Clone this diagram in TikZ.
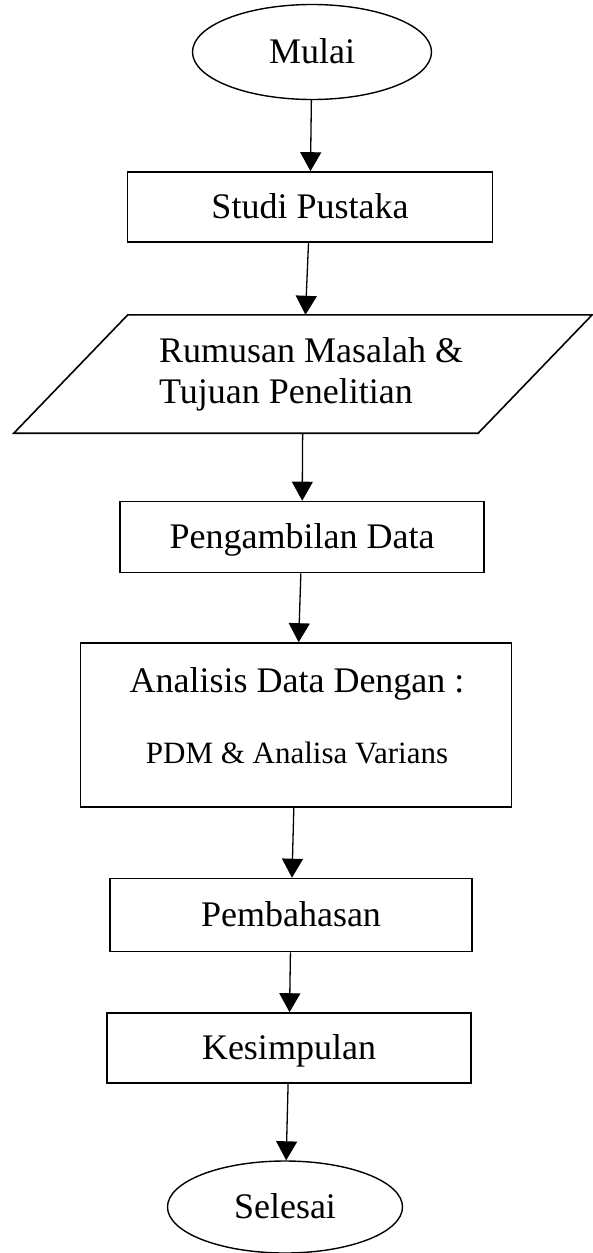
\documentclass[tikz,border=0pt]{standalone}
\usepackage{fontspec}
\setmainfont{Liberation Serif}
\usetikzlibrary{arrows.meta,shapes.geometric,calc}
\begin{document}
\begin{tikzpicture}[x=1pt,y=-1pt,
  every node/.style={font=\fontsize{36}{43}\selectfont},
  proc/.style={draw, line width=1.6pt, rectangle, inner sep=0pt, text height=22pt, text depth=0pt},
  term/.style={draw, line width=1.4pt, ellipse, inner sep=0pt, text height=22pt, text depth=0pt},
  arr/.style={line width=1.3pt, -{Triangle[width=21pt,length=19pt]}},
  txt/.style={inner sep=0pt}
]
\useasboundingbox (0,0) rectangle (593,1253);
\node[term, minimum width=239pt, minimum height=95pt] (mulai) at (312,52) {Mulai};
\node[proc, minimum width=365pt, minimum height=70pt] (studi) at (310,207) {Studi Pustaka};
\node[inner sep=0pt, minimum width=464pt, minimum height=118pt] (para) at (303,374) {};
\draw[line width=1.6pt] ($(para.north west)+(57,0)$) -- ($(para.north east)+(57,0)$)
  -- ($(para.south east)+(-57,0)$) -- ($(para.south west)+(-57,0)$) -- cycle;
\node[txt, anchor=base west] (para1) at (159,362) {Rumusan Masalah \&};
\node[txt, anchor=base west] (para2) at (159,403) {Tujuan Penelitian};
\node[proc, minimum width=364pt, minimum height=71pt] (peng) at (302,537) {Pengambilan Data};
\node[proc, minimum width=431pt, minimum height=164pt] (anal) at (296,725) {};
\node[txt, anchor=base] (anal1) at (297,692) {Analisis Data Dengan :};
\node[txt, anchor=base, font=\fontsize{31}{37}\selectfont] (anal2) at (297,763) {PDM \& Analisa Varians};
\node[proc, minimum width=362pt, minimum height=73pt] (pemb) at (291,915) {Pembahasan};
\node[proc, minimum width=364pt, minimum height=70pt] (kesi) at (289,1048) {Kesimpulan};
\node[term, minimum width=235pt, minimum height=92pt] (selesai) at (285,1207) {Selesai};
\draw[arr] (mulai) -- (studi);
\draw[arr] (studi) -- (para);
\draw[arr] (para) -- (peng);
\draw[arr] (peng) -- (anal);
\draw[arr] (anal) -- (pemb);
\draw[arr] (pemb) -- (kesi);
\draw[arr] (kesi) -- (selesai);
\end{tikzpicture}
\end{document}
